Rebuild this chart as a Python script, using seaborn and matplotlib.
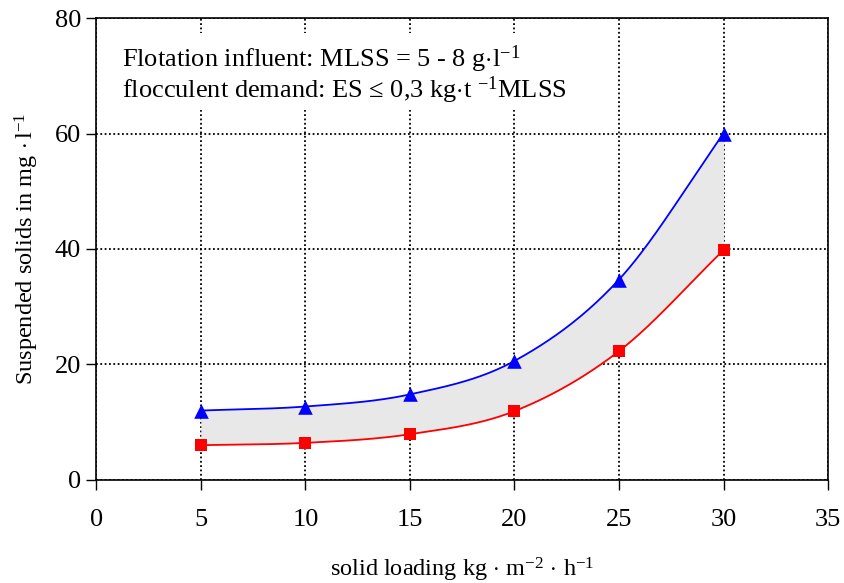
import numpy as np
import pandas as pd
import matplotlib
matplotlib.use("Agg")
import matplotlib.pyplot as plt
from matplotlib.patches import Rectangle
import seaborn as sns

# data
loading = [5, 10, 15, 20, 25, 30]
upper = [12.0, 12.7, 14.8, 20.6, 34.7, 60.0]
lower = [6.0, 6.4, 7.9, 11.9, 22.3, 39.8]
x_ticks = [0, 5, 10, 15, 20, 25, 30, 35]
y_ticks = [0, 20, 40, 60, 80]

sns.set_theme(style="white")
plt.rcParams['font.family'] = ['Liberation Serif', 'DejaVu Serif']
plt.rcParams['mathtext.fontset'] = 'custom'
plt.rcParams['mathtext.rm'] = 'Liberation Serif'
plt.rcParams['mathtext.it'] = 'Liberation Serif:italic'
plt.rcParams['text.color'] = 'black'
plt.rcParams['axes.labelcolor'] = 'black'
plt.rcParams['xtick.color'] = 'black'
plt.rcParams['ytick.color'] = 'black'


def catmull(x, y, n=40):
    x = np.asarray(x, float); y = np.asarray(y, float)
    px = np.concatenate([[2 * x[0] - x[1]], x, [2 * x[-1] - x[-2]]])
    py = np.concatenate([[2 * y[0] - y[1]], y, [2 * y[-1] - y[-2]]])
    xs, ys = [], []
    for i in range(1, len(px) - 2):
        t = np.linspace(0, 1, n, endpoint=(i == len(px) - 3))
        for P, out in ((px, xs), (py, ys)):
            p0, p1, p2, p3 = P[i - 1], P[i], P[i + 1], P[i + 2]
            out.append(0.5 * ((2 * p1) + (-p0 + p2) * t + (2 * p0 - 5 * p1 + 4 * p2 - p3) * t ** 2
                              + (-p0 + 3 * p1 - 3 * p2 + p3) * t ** 3))
    return np.concatenate(xs), np.concatenate(ys)


fig = plt.figure(figsize=(8.45, 5.83), dpi=100)
ax = fig.add_axes([0.114, 0.177, 0.866, 0.792])
ax.set_axisbelow(True)

xu, yu = catmull(loading, upper)
xl, yl = catmull(loading, lower)
ax.fill_between(xu, yl, yu, color='#e8e8e8', zorder=1, linewidth=0)
ax.plot(xu, yu, color='#0000ff', lw=1.3, zorder=3)
ax.plot(xl, yl, color='#ff0000', lw=1.3, zorder=3)

df = pd.DataFrame({'x': loading, 'upper': upper, 'lower': lower})
sns.scatterplot(data=df, x='x', y='upper', marker='^', color='#0000ff', s=110,
                edgecolor='#0000ff', linewidth=0, ax=ax, zorder=4)
sns.scatterplot(data=df, x='x', y='lower', marker='s', color='#ff0000', s=85,
                edgecolor='#ff0000', linewidth=0, ax=ax, zorder=4)

ax.set_xlim(0, 35)
ax.set_ylim(0, 80)
ax.set_xticks(x_ticks)
ax.set_yticks(y_ticks)
ax.tick_params(axis='both', labelsize=19, direction='out', length=7, width=1,
               color='black', labelcolor='black', left=True, bottom=True, pad=4)
ax.tick_params(axis='x', pad=14)
for s in ax.spines.values():
    s.set_color('black'); s.set_linewidth(1.2)
ax.grid(True, color='black', linestyle=(0, (1.0, 1.4)), linewidth=1.3)

ax.set_xlabel(r'solid loading kg$\,\cdot\,$m$^{-2}\,\cdot\,$h$^{-1}$', fontsize=17.5,
              labelpad=18, color='black')
ax.set_ylabel(r'Suspended solids in mg$\,\cdot$l$^{-1}$', fontsize=17.5, labelpad=10,
              color='black')

ax.add_patch(Rectangle((0.05, 64.1), 23.5, 13.3, facecolor='white', edgecolor='none',
                       zorder=2))
ax.text(1.25, 71.5, r'Flotation influent: MLSS = 5 - 8 g$\cdot$l$^{-1}$', fontsize=19,
        va='baseline', ha='left', color='black', zorder=5)
ax.text(1.25, 66.2, r'flocculent demand: ES ≤ 0,3 kg$\cdot$t $^{-1}$MLSS', fontsize=19,
        va='baseline', ha='left', color='black', zorder=5)

fig.savefig('out.png', dpi=100)
